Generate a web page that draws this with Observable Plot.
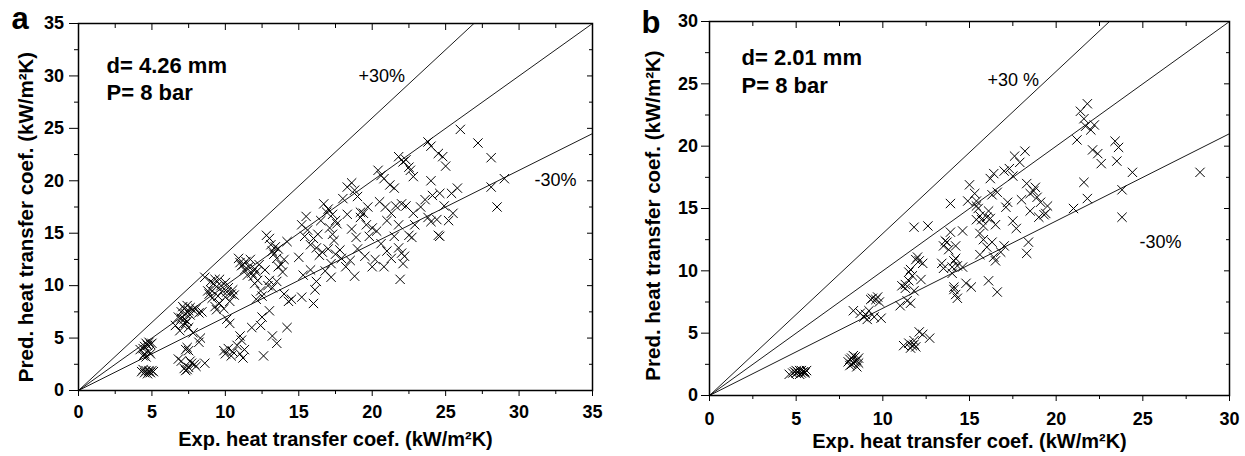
<!DOCTYPE html>
<html><head><meta charset="utf-8">
<script src="https://cdn.jsdelivr.net/npm/d3@7"></script>
<script src="https://cdn.jsdelivr.net/npm/@observablehq/plot@0.6"></script>
<style>
body{margin:0;background:#fff;}
#wrap{position:relative;width:1245px;height:456px;overflow:hidden;}
#pa{position:absolute;left:0;top:0;}
#pb{position:absolute;left:620px;top:0;}
</style></head><body><div id="wrap"><div id="pa"></div><div id="pb"></div></div>
<script>
// Panel a: d = 4.26 mm
const expA = [
 4.3,4.5,4.6,4.7,4.8,4.9,5.0,5.1,4.4,4.8, 4.2,4.4,4.5,4.6,4.7,4.8,4.9,4.5,4.6,4.8,4.9,5.0,4.4,
 6.8,7.0,7.1,7.2,7.3,7.4,7.5,7.6,7.2,7.4,7.0,7.6,7.8,8.0,8.2,8.4,7.3,6.6,6.9,7.5,7.8,7.1,
 6.8,7.0,7.3,7.4,7.5,7.2,7.3,7.5,7.7,7.9,8.0,8.2,8.3,7.6,8.6,7.4,
 8.6,8.9,9.0,9.2,9.3,9.4,9.5,9.6,9.7,9.8,10.0,10.1,10.2,10.4,10.5,9.1,9.3,9.9,10.3,10.6,9.0,9.6,10.0,8.8,9.4,10.1,10.3,
 9.9,10.0,10.2,10.5,10.8,11.0,11.2,11.0,11.3,10.4,11.1,
 10.9,11.0,11.2,11.3,11.4,11.5,11.6,11.8,11.9,12.0,12.1,12.2,12.3,11.1,11.7,12.0,12.4,12.1,12.5,11.8,12.4,12.5,12.6,
 12.8,13.0,13.1,13.2,13.3,13.4,13.5,13.6,13.8,14.0,14.2,13.9,13.0,13.2,12.9,13.5,14.0,14.3,14.5,14.2,13.2,13.5,13.0,12.7,13.6,
 15.2,15.5,15.4,15.6,15.8,16.0,16.2,16.4,16.3,16.5,15.0,15.3,15.8,16.0,15.2,16.2,16.1,16.6,17.0,16.8,17.2,16.9,16.7,17.0,17.3,17.1,17.4,17.5,17.6,17.3,17.5,17.8,17.9,17.2,
 18.3,18.6,18.8,19.0,19.2,18.0,18.3,18.6,18.9,19.2,19.4,19.6,19.8,18.5,18.2,18.8,19.0,19.5,20.0,20.0,19.7,
 20.4,20.6,20.8,21.2,21.5,21.8,22.1,22.3,22.5,22.6,22.8,20.5,20.9,21.3,21.0,21.6,21.8,22.0,22.3,20.3,20.6,21.0,21.3,20.8,21.5,21.8,22.0,22.2,22.1,21.9,22.5,22.7,22.9,22.8,20.2,
 23.8,24.0,24.5,24.8,25.0,24.0,23.6,24.1,24.6,24.4,24.0,24.5,24.6,25.2,25.5,24.9,25.4,25.8,26.0,27.2,28.1,28.1,28.5,29.0,23.3,23.8
];
const predA = [
 1.8,1.7,1.9,1.6,1.8,1.7,1.9,1.8,2.0,1.9, 3.9,3.3,3.5,4.5,4.3,4.6,4.4,4.2,3.2,3.7,3.5,4.5,4.0,
 7.0,7.5,8.0,7.8,7.3,8.1,7.6,7.9,6.8,6.6,6.9,7.2,7.7,7.8,7.4,7.5,6.4,6.2,5.7,6.0,5.5,6.3,
 3.0,2.8,3.9,4.1,3.8,2.1,1.9,2.2,2.6,2.5,2.3,4.6,5.0,2.8,2.6,2.0,
 10.8,9.2,9.6,10.2,10.6,9.9,9.0,8.3,10.0,9.5,10.3,9.4,9.8,9.2,9.6,8.8,8.0,7.8,8.5,9.1,10.4,10.6,8.9,9.5,7.7,6.8,6.4,
 3.8,3.5,4.0,3.7,4.3,3.5,3.1,5.2,3.9,3.3,4.8,
 12.6,12.2,12.0,11.5,12.3,11.0,11.8,11.2,10.9,11.6,11.3,10.5,12.0,11.9,12.5,10.2,9.5,8.7,9.0,6.0,6.2,7.0,3.3,
 14.8,14.5,13.9,13.3,13.0,13.7,12.6,13.5,12.0,12.5,14.2,11.3,10.5,9.8,10.0,10.4,9.2,8.5,8.7,6.0,5.2,4.5,7.6,11.5,11.8,
 15.8,16.6,14.7,15.3,13.9,14.5,13.6,12.9,14.9,16.2,12.7,11.0,11.5,8.3,8.9,10.4,9.6,13.2,13.5,11.4,10.8,17.0,17.8,17.3,16.8,15.5,14.3,16.2,15.9,14.9,13.0,13.4,12.6,12.1,
 19.4,19.8,19.1,18.5,17.0,18.3,16.8,15.4,14.6,16.5,16.9,15.8,14.7,12.4,11.8,10.9,13.5,12.8,11.8,15.5,17.5,
 21.0,20.5,20.2,19.6,19.3,22.3,21.8,22.0,21.3,21.0,20.4,18.0,17.5,16.9,16.2,17.6,15.8,17.8,17.6,15.2,14.0,13.3,12.6,11.8,14.7,13.6,13.1,12.8,12.1,10.6,14.8,14.6,15.8,16.9,12.5,
 23.7,23.3,22.6,22.3,21.4,20.0,18.2,18.6,18.8,16.3,16.1,14.8,14.7,16.2,16.9,17.6,18.8,19.3,24.9,23.6,22.2,19.4,17.5,20.2,17.5,16.5
];
// Panel b: d = 2.01 mm
const expB = [
 4.6,4.8,4.9,5.0,5.1,5.2,5.3,5.4,5.5,5.6,5.2,5.0,5.3,5.5,
 8.0,8.1,8.2,8.3,8.4,8.5,8.6,8.2,8.3,8.5,8.4,8.1,8.6,
 8.3,8.7,8.9,9.0,9.1,9.3,9.4,9.6,9.8,9.7,9.5,9.9,9.2,
 11.2,11.5,11.7,11.8,11.9,11.6,12.1,12.3,12.7,11.8,
 11.0,11.1,11.3,11.4,11.5,11.6,11.7,11.8,11.5,11.6,11.3,12.0,12.1,11.9,12.3,11.8,12.6,12.2,
 13.5,13.6,13.7,13.8,13.9,13.4,13.5,14.0,14.1,14.2,14.3,14.0,14.1,14.2,14.3,14.1,13.9,14.2,14.6,14.8,15.1,14.6,14.9,
 15.0,15.3,15.4,15.5,15.6,15.7,15.8,15.4,15.6,15.8,16.0,16.1,16.2,16.3,16.0,16.4,16.5,15.6,16.1,16.6,16.2,16.4,16.6,16.3,16.5,17.0,16.8,15.4,
 17.0,17.3,17.6,17.9,18.2,17.5,17.2,17.5,17.7,17.1,18.0,18.3,18.5,18.7,18.9,19.1,19.3,19.5,19.0,18.3,18.4,18.5,19.4,18.8,
 21.2,21.4,21.6,21.8,21.7,22.0,22.2,22.4,22.1,22.6,23.4,23.6,23.5,23.8,23.8,21.6,21.8,21.0,24.4,28.3
];
const predB = [
 1.7,1.8,1.9,1.8,1.9,2.0,1.8,1.9,1.9,2.0,1.7,2.0,2.0,1.8,
 2.7,2.9,3.0,2.6,3.1,2.8,3.0,2.5,3.2,2.3,2.7,2.4,2.6,
 6.8,6.6,6.3,6.5,6.1,7.7,7.8,7.7,7.5,7.9,6.3,6.2,6.8,
 4.0,4.2,4.0,4.4,3.9,3.8,5.1,4.9,4.6,4.1,
 7.2,8.8,8.6,7.6,9.9,10.1,9.6,8.4,9.2,7.4,8.9,11.1,10.8,10.9,10.6,13.5,13.6,9.3,
 12.0,12.4,12.3,11.7,13.1,10.6,10.2,10.3,10.8,11.0,10.4,9.8,8.5,8.1,7.8,8.7,15.4,12.0,10.3,9.0,8.7,13.2,15.6,
 16.9,16.2,15.6,15.0,14.4,14.1,13.6,14.1,13.0,12.5,14.3,14.8,14.2,12.3,11.9,11.1,10.8,11.3,9.2,8.3,17.4,17.8,16.3,16.1,13.7,12.0,11.5,15.2,
 18.0,18.2,19.2,18.7,19.6,17.6,15.5,14.0,13.4,15.1,15.7,17.0,16.2,16.4,15.9,15.5,14.5,15.2,14.3,11.4,12.3,14.8,14.6,16.7,
 20.5,22.8,22.2,23.4,21.6,21.3,21.7,19.4,19.7,18.6,20.4,19.9,18.8,16.5,14.3,17.1,15.8,15.0,17.9,17.9
];
const ratios = [0.7, 1.0, 1.3];
const xTitle = "Exp. heat transfer coef. (kW/m²K)";
const yTitle = "Pred. heat transfer coef. (kW/m²K)";

const FONT = '"Liberation Sans", Arial, Helvetica, sans-serif';

function panel(cfg) {
  const {exp, pred, max, width, ml, mr, mt, mb, letter, info, plus, minus, ly, lx} = cfg;
  const pts = exp.map((x, i) => ({x, y: pred[i]}));
  const major = d3.range(0, max + 0.01, 5);
  const minor = d3.range(2.5, max, 5);
  const lines = ratios.flatMap(r => [{x: 0, y: 0, r}, {x: max, y: max * r, r}]);
  const blank = () => "";
  const tick = {fontSize: 18, fontWeight: "bold"};
  return Plot.plot({
    width, height: 456,
    marginLeft: ml, marginRight: mr, marginTop: mt, marginBottom: mb,
    x: {domain: [0, max]},
    y: {domain: [0, max]},
    style: {fontFamily: FONT, fontSize: "17px", color: "black", background: "white", overflow: "visible"},
    marks: [
      Plot.line(lines, {x: "x", y: "y", z: "r", stroke: "black", strokeWidth: 0.9, clip: true}),
      Plot.dot(pts, {x: "x", y: "y", symbol: "times", r: 4.3, stroke: "black", strokeWidth: 1}),
      Plot.axisX({ticks: major, tickSize: 6, tickFormat: blank, label: null}),
      Plot.axisX({ticks: minor, tickSize: 4, tickFormat: blank, label: null}),
      Plot.axisX({anchor: "top", ticks: major, tickSize: -6, tickFormat: blank, label: null}),
      Plot.axisX({anchor: "top", ticks: minor, tickSize: -4, tickFormat: blank, label: null}),
      Plot.axisY({ticks: major, tickSize: cfg.ytick, tickFormat: blank, label: null}),
      Plot.axisY({ticks: minor, tickSize: 4, tickFormat: blank, label: null}),
      Plot.axisY({anchor: "right", ticks: major, tickSize: -6, tickFormat: blank, label: null}),
      Plot.axisY({anchor: "right", ticks: minor, tickSize: -4, tickFormat: blank, label: null}),
      Plot.frame({stroke: "black", strokeWidth: 1.5}),
      Plot.text(major, {x: d => d, text: d => String(d), frameAnchor: "bottom", dy: cfg.xlab, lineAnchor: "top", textAnchor: "middle", ...tick}),
      Plot.text(major, {y: d => d, text: d => String(d), frameAnchor: "left", dx: -cfg.ylab, lineAnchor: "middle", textAnchor: "end", ...tick}),
      Plot.text([xTitle], {frameAnchor: "bottom", dy: cfg.xtdy, textAnchor: "middle", lineAnchor: "bottom", fontSize: 20, fontWeight: "bold"}),
      Plot.text([yTitle], {frameAnchor: "left", dx: cfg.ytdx, dy: cfg.ytdy, rotate: -90, textAnchor: "middle", lineAnchor: "bottom", fontSize: 20.5, fontWeight: "bold"}),
      Plot.text([letter], {frameAnchor: "top-left", dx: lx[0], dy: lx[1], textAnchor: "start", lineAnchor: "bottom", fontSize: 31, fontWeight: "bold"}),
      Plot.text([info[0]], {frameAnchor: "top-left", dx: ly[0], dy: ly[1], textAnchor: "start", lineAnchor: "bottom", fontSize: 22, fontWeight: "bold"}),
      Plot.text([info[1]], {frameAnchor: "top-left", dx: ly[0], dy: ly[2], textAnchor: "start", lineAnchor: "bottom", fontSize: 22, fontWeight: "bold"}),
      Plot.text([plus[0]], {frameAnchor: "top-left", dx: plus[1], dy: plus[2], textAnchor: "start", lineAnchor: "bottom", fontSize: 18}),
      Plot.text([minus[0]], {frameAnchor: "top-left", dx: minus[1], dy: minus[2], textAnchor: "start", lineAnchor: "bottom", fontSize: 18})
    ]
  });
}

document.getElementById("pa").append(panel({
  exp: expA, pred: predA, max: 35, width: 620, ml: 78, mr: 28, mt: 23, mb: 66,
  xlab: 15, ylab: 14.5, ytick: 9, xtdy: 55, ytdx: -46, ytdy: 10,
  letter: "a", lx: [-67, 5], info: ["d= 4.26 mm", "P= 8 bar"], ly: [28, 49.5, 76],
  plus: ["+30%", 280, 58], minus: ["-30%", 456, 162.5]
}));
document.getElementById("pb").append(panel({
  exp: expB, pred: predB, max: 30, width: 625, ml: 89, mr: 16, mt: 21, mb: 61,
  xlab: 16.5, ylab: 11.5, ytick: 8, xtdy: 52, ytdx: -50, ytdy: 7,
  letter: "b", lx: [-68, 11], info: ["d= 2.01 mm", "P= 8 bar"], ly: [32, 43.5, 71],
  plus: ["+30 %", 278, 64], minus: ["-30%", 430, 226]
}));
</script></body></html>
